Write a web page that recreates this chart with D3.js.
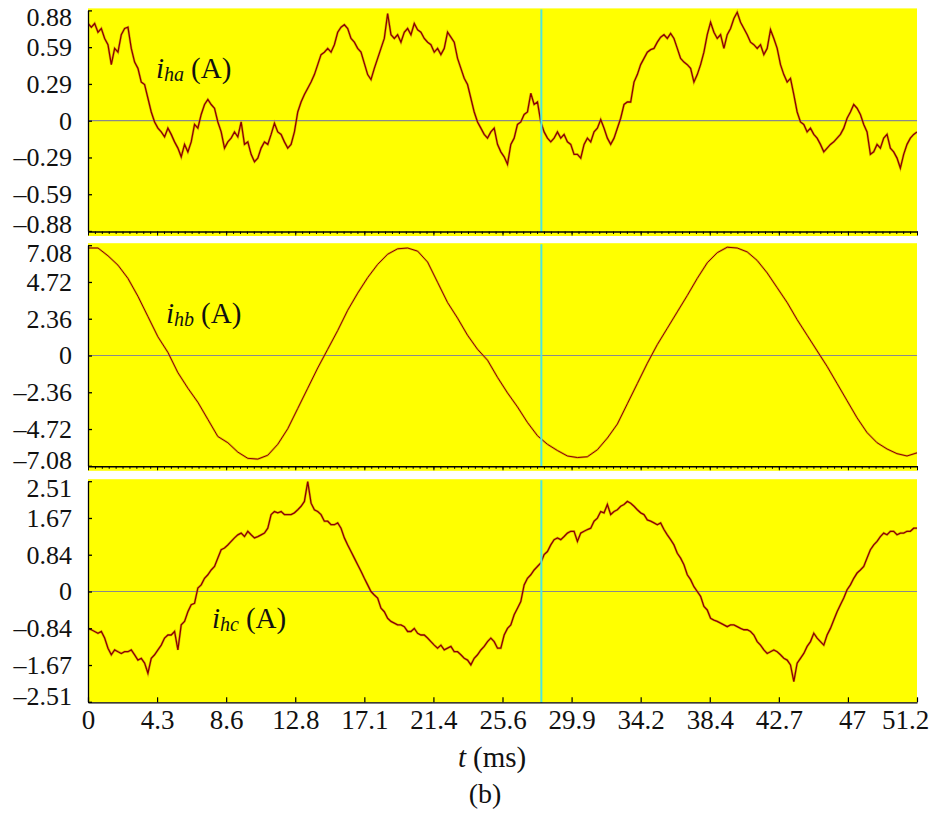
<!DOCTYPE html>
<html><head><meta charset="utf-8">
<script src="https://cdn.jsdelivr.net/npm/d3@7/dist/d3.min.js"></script>
<style>body{margin:0;background:#fff}svg{display:block}</style>
</head><body><svg id="chart" width="931" height="816"></svg>
<script>
// ---------------- data ----------------
const timeDomainMs = [0, 51.2];
const xTickValues = [0, 4.267, 8.533, 12.8, 17.067, 21.333, 25.6, 29.867, 34.133, 38.4, 42.667, 46.933, 51.2];
const xTickLabels = ["0", "4.3", "8.6", "12.8", "17.1", "21.4", "25.6", "29.9", "34.2", "38.4", "42.7", "47", "51.2"];
const cursorTimeMs = 28.0;

const ihaTicks = [-0.885, -0.59, -0.295, 0, 0.295, 0.59, 0.885];
const ihaTickLabels = ["–0.88", "–0.59", "–0.29", "0", "0.29", "0.59", "0.88"];
const ihbTicks = [-7.08, -4.72, -2.36, 0, 2.36, 4.72, 7.08];
const ihbTickLabels = ["–7.08", "–4.72", "–2.36", "0", "2.36", "4.72", "7.08"];
const ihcTicks = [-2.51, -1.673, -0.837, 0, 0.837, 1.673, 2.51];
const ihcTickLabels = ["–2.51", "–1.67", "–0.84", "0", "0.84", "1.67", "2.51"];

// i_ha samples (A), evenly spaced over 0..51.2 ms
const ihaValues = [
 0.78, 0.75, 0.78, 0.71, 0.74, 0.66, 0.61, 0.45, 0.58, 0.55, 0.69, 0.74, 0.75,
 0.58, 0.47, 0.42, 0.31, 0.29, 0.18, 0.07, -0.01, -0.06, -0.09, -0.13, -0.06, -0.11, -0.17, -0.22, -0.29,
 -0.19, -0.25, -0.17, -0.03, -0.06, 0.05, 0.13, 0.17, 0.13, 0.10, -0.01, -0.09, -0.22, -0.17, -0.14,
 -0.09, -0.13, -0.01, -0.19, -0.17, -0.27, -0.33, -0.30, -0.22, -0.17, -0.19, -0.11, -0.02, -0.09,
 -0.11, -0.17, -0.22, -0.19, -0.09, 0.07, 0.15, 0.21, 0.26, 0.31, 0.37, 0.45, 0.53, 0.55, 0.58, 0.55,
 0.61, 0.71, 0.75, 0.77, 0.74, 0.66, 0.63, 0.58, 0.55, 0.46, 0.37, 0.33, 0.42, 0.50, 0.58, 0.66, 0.86,
 0.69, 0.66, 0.69, 0.63, 0.71, 0.74, 0.69, 0.78, 0.73, 0.71, 0.66, 0.63, 0.61, 0.55, 0.58, 0.53, 0.58,
 0.71, 0.67, 0.63, 0.50, 0.42, 0.34, 0.29, 0.18, 0.07, -0.01, -0.06, -0.11, -0.14, -0.09, -0.06, -0.19,
 -0.25, -0.29, -0.35, -0.19, -0.14, -0.03, -0.01, 0.05, 0.07, 0.22, 0.13, 0.15, -0.01, -0.09, -0.14,
 -0.17, -0.14, -0.09, -0.14, -0.11, -0.17, -0.19, -0.27, -0.27, -0.30, -0.19, -0.14, -0.17, -0.09,
 -0.06, 0.01, -0.06, -0.14, -0.19, -0.14, -0.06, 0.02, 0.13, 0.15, 0.15, 0.31, 0.37, 0.45, 0.50, 0.55,
 0.57, 0.58, 0.63, 0.67, 0.69, 0.66, 0.70, 0.66, 0.58, 0.50, 0.47, 0.45, 0.42, 0.31, 0.37, 0.45, 0.55,
 0.69, 0.79, 0.71, 0.66, 0.69, 0.58, 0.69, 0.74, 0.82, 0.87, 0.79, 0.74, 0.69, 0.63, 0.61, 0.58, 0.61,
 0.53, 0.58, 0.73, 0.66, 0.58, 0.45, 0.37, 0.31, 0.34, 0.21, 0.07, -0.01, -0.03, -0.09, -0.06, -0.11,
 -0.14, -0.19, -0.25, -0.22, -0.19, -0.17, -0.14, -0.11, -0.06, 0.02, 0.07, 0.13, 0.10, 0.05, -0.03,
 -0.09, -0.27, -0.25, -0.19, -0.22, -0.14, -0.11, -0.22, -0.25, -0.30, -0.38, -0.27, -0.19, -0.14,
 -0.11, -0.09
];

// i_hb samples (A)
const ihbValues = [
 6.9, 6.9, 6.4, 5.8, 4.95, 3.8, 2.5, 1.2, 0.2, -1.1,
 -2.1, -3.0, -4.1, -5.2, -5.6, -6.2, -6.6, -6.65, -6.4, -5.7,
 -4.7, -3.4, -2.1, -0.8, 0.4, 1.6, 2.9, 4.0, 5.0, 5.85,
 6.5, 6.85, 6.9, 6.7, 6.0, 4.7, 3.4, 2.4, 1.3, 0.4,
 -0.3, -1.4, -2.4, -3.3, -4.3, -5.15, -5.7, -6.1, -6.45, -6.55,
 -6.5, -6.05, -5.3, -4.4, -3.1, -1.8, -0.5, 0.7, 1.75, 2.8,
 3.85, 4.95, 5.95, 6.6, 6.95, 6.9, 6.65, 6.1, 5.3, 4.35,
 3.4, 2.3, 1.3, 0.3, -0.7, -1.8, -2.9, -4.0, -4.95, -5.6,
 -6.0, -6.3, -6.45, -6.25
];

// i_hc samples (A)
const ihcValues = [
 -0.84, -0.87, -0.91, -0.95, -0.91, -1.06, -1.29, -1.44, -1.33, -1.37, -1.41, -1.37, -1.37, -1.33,
 -1.44, -1.56, -1.52, -1.63, -1.86, -1.52, -1.44, -1.33, -1.22, -1.06, -0.99, -0.99, -0.91, -1.33,
 -0.76, -0.68, -0.46, -0.30, -0.27, 0.08, 0.15, 0.30, 0.38, 0.49, 0.57, 0.76, 0.95, 0.99, 1.06, 1.14,
 1.22, 1.29, 1.33, 1.25, 1.37, 1.29, 1.22, 1.25, 1.29, 1.33, 1.44, 1.75, 1.82, 1.79, 1.82, 1.75, 1.75,
 1.75, 1.79, 1.86, 1.94, 2.05, 2.50, 2.01, 1.86, 1.82, 1.75, 1.60, 1.60, 1.52, 1.52, 1.56, 1.44, 1.22,
 1.06, 0.91, 0.76, 0.61, 0.46, 0.30, 0.15, 0.00, -0.08, -0.15, -0.38, -0.46, -0.61, -0.68, -0.72,
 -0.76, -0.76, -0.80, -0.91, -0.91, -0.84, -0.95, -0.99, -0.99, -1.06, -1.14, -1.22, -1.29, -1.22,
 -1.33, -1.29, -1.25, -1.37, -1.37, -1.44, -1.52, -1.56, -1.67, -1.52, -1.44, -1.33, -1.25, -1.14,
 -1.06, -1.14, -1.29,
 -1.29, -0.99, -0.84, -0.76, -0.53, -0.38, -0.23, 0.15, 0.30, 0.38, 0.49, 0.57, 0.65, 0.84, 0.91,
 1.06, 1.18, 1.22, 1.18, 1.25, 1.33, 1.37, 1.37, 1.14, 1.33, 1.37, 1.41, 1.44, 1.60, 1.67, 1.82, 1.79,
 1.98, 1.75, 1.82, 1.86, 1.94, 1.98, 2.05, 2.01, 1.94, 1.86, 1.79, 1.75, 1.63, 1.60, 1.56, 1.52, 1.56,
 1.41, 1.29, 1.18, 1.06, 0.87, 0.76, 0.61, 0.38, 0.27, 0.11, 0.00, -0.11, -0.34, -0.42, -0.61, -0.65,
 -0.68, -0.72, -0.76, -0.80, -0.76, -0.76, -0.80, -0.84, -0.87, -0.87, -0.91, -0.99, -1.14, -1.22,
 -1.33, -1.41, -1.37, -1.33, -1.37, -1.44, -1.52, -1.56, -1.67, -2.05, -1.63, -1.52, -1.41, -1.25,
 -1.14, -0.95, -1.06, -1.14, -1.22, -0.99, -0.84, -0.65, -0.46, -0.30, -0.15, 0.04, 0.15, 0.30, 0.42,
 0.49, 0.57, 0.76, 0.95, 1.06, 1.14, 1.25, 1.33, 1.29, 1.37, 1.37, 1.29, 1.33, 1.33, 1.37, 1.37, 1.44,
 1.44
];

// ---------------- drawing ----------------
const FONT = "'Liberation Serif','Times New Roman',Times,serif";
const svg = d3.select("#chart");
const left = 88, right = 917, half = 110.3;
const x = d3.scaleLinear().domain(timeDomainMs).range([left, right]);

const panels = [
  {values: ihaValues, ticks: ihaTicks, labels: ihaTickLabels, sub: "ha", zero: 120.7, lab: [156, 78], topNudge: 7, botNudge: -7.5, last: false, w: 1.3},
  {values: ihbValues, ticks: ihbTicks, labels: ihbTickLabels, sub: "hb", zero: 355.5, lab: [166, 323], topNudge: 7.5, botNudge: -6, last: false, w: 1.0},
  {values: ihcValues, ticks: ihcTicks, labels: ihcTickLabels, sub: "hc", zero: 591.5, lab: [212, 628], topNudge: 7, botNudge: -6, last: true, w: 1.3}
];

const minorTicks = d3.range(0, 121).map(i => i * 51.2 / 120);

panels.forEach((p, k) => {
  const max = d3.max(p.ticks);
  const y = d3.scaleLinear().domain([-max, max]).range([p.zero + half, p.zero - half]);
  const top = p.zero - half, bot = p.zero + half;
  const g = svg.append("g");

  g.append("rect").attr("x", left).attr("y", top - 2)
    .attr("width", right - left).attr("height", (bot + (p.last ? 0.5 : 5)) - (top - 2))
    .attr("fill", "#ffff00");

  const clipId = "clip" + k;
  svg.append("clipPath").attr("id", clipId).append("rect")
    .attr("x", left).attr("y", top - 2).attr("width", right - left).attr("height", bot - top + 3);

  g.append("line").attr("x1", left).attr("x2", right)
    .attr("y1", y(0)).attr("y2", y(0))
    .attr("stroke", "#8a8a8a").attr("stroke-width", 1.2);

  const n = p.values.length;
  const data = p.values.map((v, i) => [i * timeDomainMs[1] / (n - 1), v]);
  const line = d3.line().x(d => x(d[0])).y(d => y(d[1]));
  const cg = g.append("g").attr("clip-path", `url(#${clipId})`);
  cg.append("path").datum(data).attr("d", line).attr("fill", "none")
    .attr("stroke", "#c87a10").attr("stroke-opacity", 0.55).attr("stroke-width", p.w + 1.2);
  cg.append("path").datum(data).attr("d", line).attr("fill", "none")
    .attr("stroke", "#8b0000").attr("stroke-width", p.w);

  // cursor
  g.append("line").attr("x1", x(cursorTimeMs)).attr("x2", x(cursorTimeMs))
    .attr("y1", top - 1).attr("y2", bot + 1)
    .attr("stroke", "#4be6e0").attr("stroke-width", 2);

  // left axis
  const ya = g.append("g").attr("transform", `translate(${left},0)`)
    .call(d3.axisLeft(y).tickValues(p.ticks).tickFormat((d, i) => p.labels[i])
      .tickSizeInner(-4).tickSizeOuter(0).tickPadding(16));
  ya.selectAll("path,line").attr("stroke", "#000").attr("stroke-width", 1.3);
  ya.selectAll("text").attr("font-family", FONT).attr("font-size", 26).attr("fill", "#111");
  ya.selectAll(".tick text").filter((d, i) => i === 0).attr("dy", (p.botNudge + 8.5) + "px");
  ya.selectAll(".tick text").filter((d, i) => i === p.ticks.length - 1).attr("dy", (p.topNudge + 8.5) + "px");

  // bottom axis
  if (!p.last) {
    const gm = g.append("g").attr("transform", `translate(0,${bot + 0.5})`)
      .call(d3.axisBottom(x).tickValues(minorTicks).tickFormat("").tickSizeInner(2.5).tickSizeOuter(0));
    gm.selectAll("path,line").attr("stroke", "#000").attr("stroke-width", 1);
    gm.select("path").attr("stroke-width", 1.4);
    const gM = g.append("g").attr("transform", `translate(0,${bot + 0.5})`)
      .call(d3.axisBottom(x).tickValues(xTickValues).tickFormat("").tickSizeInner(4).tickSizeOuter(0));
    gM.selectAll("line").attr("stroke", "#000").attr("stroke-width", 1);
    gM.select("path").remove();
  } else {
    const gx = g.append("g").attr("transform", `translate(0,${bot + 0.5})`)
      .call(d3.axisBottom(x).tickValues(xTickValues).tickFormat((d, i) => xTickLabels[i])
        .tickSizeInner(-5).tickSizeOuter(0).tickPadding(8));
    gx.selectAll("path,line").attr("stroke", "#000").attr("stroke-width", 1.2);
    gx.selectAll("text").attr("font-family", FONT).attr("font-size", 27).attr("fill", "#111");
    gx.selectAll(".tick text").filter((d, i) => i === xTickValues.length - 2).attr("dx", 4);
    gx.selectAll(".tick text").filter((d, i) => i === xTickValues.length - 1).attr("dx", -12);
  }

  // series label
  const t = g.append("text").attr("x", p.lab[0]).attr("y", p.lab[1])
    .attr("font-family", FONT).attr("font-size", 29).attr("fill", "#111");
  t.append("tspan").attr("font-style", "italic").text("i");
  t.append("tspan").attr("font-style", "italic").attr("font-size", 20).attr("dy", 3).text(p.sub);
  t.append("tspan").attr("dy", -3).attr("dx", 7).text("(A)");
});

// axis title
const tt = svg.append("text").attr("x", 458).attr("y", 767)
  .attr("font-family", FONT).attr("font-size", 29).attr("fill", "#111");
tt.append("tspan").attr("font-style", "italic").text("t");
tt.append("tspan").attr("dx", 7).text("(ms)");

svg.append("text").attr("x", 485).attr("y", 803).attr("text-anchor", "middle")
  .attr("font-family", FONT).attr("font-size", 28).attr("fill", "#111").text("(b)");
</script>
</body></html>
